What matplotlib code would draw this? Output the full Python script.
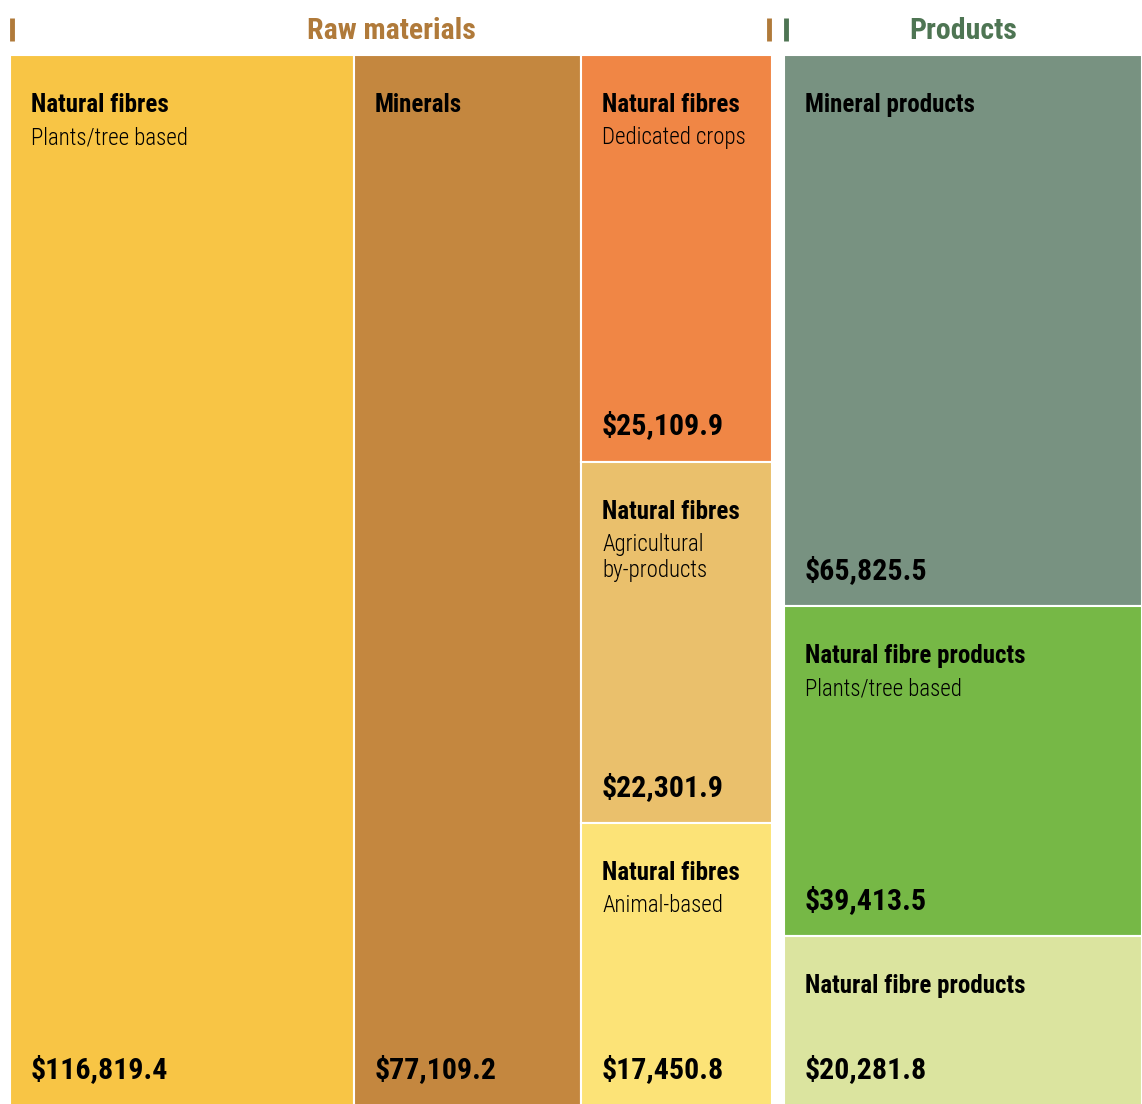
import matplotlib
matplotlib.use("Agg")
import matplotlib.pyplot as plt
from matplotlib.patches import Rectangle

plt.rcParams['font.family'] = ['Roboto Condensed', 'Liberation Sans Narrow', 'DejaVu Sans']

# data
raw_titles = ["Natural fibres", "Minerals", "Natural fibres", "Natural fibres", "Natural fibres"]
raw_subtitles = ["Plants/tree based", "", "Dedicated crops", "Agricultural\nby-products", "Animal-based"]
raw_values = [116819.4, 77109.2, 25109.9, 22301.9, 17450.8]
raw_colors = ["#F8C545", "#C4873F", "#F08645", "#EAC06C", "#FCE377"]

prod_titles = ["Mineral products", "Natural fibre products", "Natural fibre products"]
prod_subtitles = ["", "Plants/tree based", ""]
prod_values = [65825.5, 39413.5, 20281.8]
prod_colors = ["#789281", "#76B846", "#DBE49F"]

group_names = ["Raw materials", "Products"]
group_colors = ["#B07A3A", "#4E7553"]

W, H = 1142, 1104
fig = plt.figure(figsize=(W / 100, H / 100), dpi=100)
ax = fig.add_axes([0, 0, 1, 1])
ax.set_xlim(0, W)
ax.set_ylim(H, 0)
ax.axis("off")

top, bottom = 55, 1106


def cell(x0, y0, x1, y1, color, title, sub, val):
    ax.add_patch(Rectangle((x0, y0), x1 - x0, y1 - y0, facecolor=color,
                           edgecolor="white", linewidth=1.5))
    tx = x0 + 21
    ax.text(tx, y0 + 50, title, fontsize=18, fontweight="bold", va="center", ha="left")
    if sub:
        ax.text(tx, y0 + 71, sub, fontsize=16.5, fontweight="light", va="top", ha="left",
                linespacing=1.15)
    ax.text(tx, y1 - 36, "${:,.1f}".format(val), fontsize=21.5, fontweight="bold",
            va="center", ha="left")


# raw materials: two full-height columns, then a stacked column
rx0, rx1 = 10, 772
tot = sum(raw_values)
x = rx0
for i in range(2):
    w = (rx1 - rx0) * raw_values[i] / tot
    cell(x, top, x + w, bottom, raw_colors[i], raw_titles[i], raw_subtitles[i], raw_values[i])
    x += w
rest = sum(raw_values[2:])
y = top
for i in range(2, 5):
    h = (bottom - top) * raw_values[i] / rest
    cell(x, y, rx1, y + h, raw_colors[i], raw_titles[i], raw_subtitles[i], raw_values[i])
    y += h

# products: one stacked column
px0, px1 = 784, 1142
ptot = sum(prod_values)
y = top
for i in range(3):
    h = (bottom - top) * prod_values[i] / ptot
    cell(px0, y, px1, y + h, prod_colors[i], prod_titles[i], prod_subtitles[i], prod_values[i])
    y += h

# group headers with bracket ticks
for (gx0, gx1), name, col in zip([(rx0, rx1), (px0, px1)], group_names, group_colors):
    ax.plot([gx0 + 2, gx0 + 2], [18, 41], color=col, linewidth=3.5, solid_capstyle="butt")
    if name == "Raw materials":
        ax.plot([gx1 - 3, gx1 - 3], [18, 41], color=col, linewidth=3.5, solid_capstyle="butt")
    ax.text((gx0 + gx1) / 2, 31, name, fontsize=21.5, fontweight="bold", color=col,
            ha="center", va="center")

fig.savefig("out.png", dpi=100)
